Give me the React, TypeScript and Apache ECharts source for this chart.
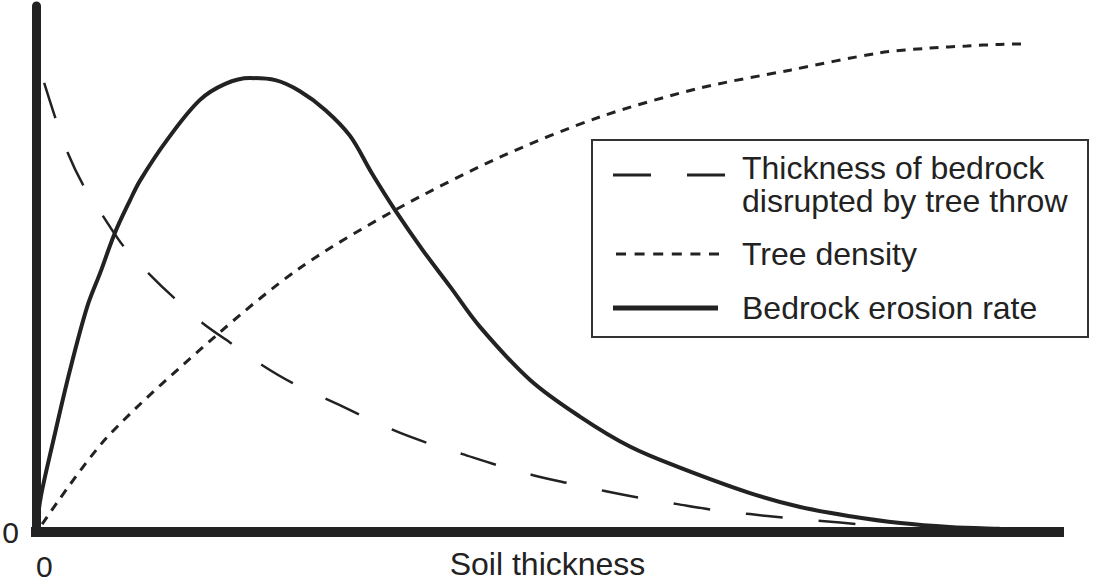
import React, { useEffect, useRef } from 'react';
import * as echarts from 'echarts';

// Bedrock erosion rate (solid)
const erosionX = [0.1, 0.5, 1.66, 3.3, 5.0, 6.3, 7.7, 9.2, 10.2, 12.8, 16.0, 18.5, 20.9, 23.4, 25.8, 28.3, 30.7, 32.8, 35.1, 37.8, 40.5, 43.4, 48.3, 53.2, 58.1, 63.0, 69.8, 74.7, 79.6, 84.5, 89.3, 94.2, 98.1];
const erosionY = [1.5, 7.0, 17.1, 30.6, 42.8, 49.4, 56.8, 63.1, 66.9, 74.5, 82.1, 85.2, 86.3, 85.9, 83.8, 80.2, 75.3, 68.3, 61.2, 53.6, 46.6, 39.0, 28.9, 21.9, 16.2, 12.2, 7.4, 4.75, 3.0, 1.7, 0.95, 0.6, 0.4];

// Thickness of bedrock disrupted by tree throw (long dashes)
const thicknessX = [0.8, 1.9, 3.1, 4.6, 6.6, 8.6, 11.1, 13.5, 16.3, 19.2, 22.2, 25.1, 29.7, 34.9, 38.3, 41.7, 45.1, 48.6, 52.0, 55.6, 59.0, 62.7, 66.2, 69.8, 73.2, 76.8, 80.4, 82.5];
const thicknessY = [85.4, 78.7, 72.1, 66.0, 59.9, 54.2, 49.0, 44.5, 39.7, 35.7, 31.6, 28.3, 24.1, 19.4, 16.9, 14.8, 12.7, 10.8, 9.3, 7.8, 6.5, 5.3, 4.2, 3.4, 2.7, 2.1, 1.5, 1.3];

// Tree density (short dashes)
const densityX = [0.6, 6.9, 17.7, 25.8, 35.1, 45.4, 55.1, 64.9, 73.7, 82.5, 87.4, 91.0, 94.2, 96.9];
const densityY = [1.5, 17.9, 37.5, 50.2, 61.2, 71.3, 78.9, 84.4, 87.8, 91.1, 92.0, 92.4, 92.7, 92.8];

const legendLines = ['Thickness of bedrock', 'disrupted by tree throw', 'Tree density', 'Bedrock erosion rate'];
const xAxisName = 'Soil thickness';
const tickLabel = '0';

const zip = (xs: number[], ys: number[]) => xs.map((x, i) => [x, ys[i]]);

export default function App() {
  const ref = useRef<HTMLDivElement>(null);
  useEffect(() => {
    const chart = echarts.init(ref.current!, null, { renderer: 'svg' });
    const fam = '"Liberation Sans", Arial, Helvetica, sans-serif';
    const ink = '#222';
    const txt = (text: string, y: number) => ({
      type: 'text',
      z: 100,
      style: {
        text,
        x: 742,
        y,
        font: `32px ${fam}`,
        fontSize: 32,
        fontFamily: fam,
        fill: ink,
        align: 'left',
        verticalAlign: 'middle',
        textAlign: 'left',
        textVerticalAlign: 'middle',
      },
    });
    chart.setOption({
      animation: false,
      grid: { left: 36, right: 43, top: 6, bottom: 49, containLabel: false, outerBoundsMode: 'none' },
      xAxis: {
        type: 'value',
        min: 0,
        max: 100,
        interval: 100,
        name: xAxisName,
        nameLocation: 'middle',
        nameGap: 32,
        nameMoveOverlap: false,
        nameTextStyle: { fontFamily: fam, fontSize: 32, color: ink, lineHeight: 26, verticalAlign: 'middle' },
        axisLine: { show: true, onZero: false, lineStyle: { color: ink, width: 10, cap: 'square' } },
        axisTick: { show: false },
        splitLine: { show: false },
        axisLabel: {
          showMaxLabel: false,
          align: 'left',
          verticalAlign: 'middle',
          lineHeight: 24,
          margin: 34,
          fontFamily: fam,
          fontSize: 30,
          color: ink,
          formatter: (v: number) => (v === 0 ? tickLabel : ''),
        },
      },
      yAxis: {
        type: 'value',
        min: 0,
        max: 100,
        interval: 100,
        axisLine: { show: true, onZero: false, lineStyle: { color: ink, width: 9 } },
        axisTick: { show: false },
        splitLine: { show: false },
        axisLabel: {
          showMaxLabel: false,
          margin: 17,
          fontFamily: fam,
          fontSize: 30,
          color: ink,
          formatter: (v: number) => (v === 0 ? tickLabel : ''),
        },
      },
      series: [
        {
          name: legendLines[0] + ' ' + legendLines[1],
          type: 'line',
          data: zip(thicknessX, thicknessY),
          smooth: 0.3,
          showSymbol: false,
          symbol: 'none',
          lineStyle: { color: ink, width: 2.5, type: [37, 36] },
        },
        {
          name: legendLines[2],
          type: 'line',
          data: zip(densityX, densityY),
          smooth: 0.3,
          showSymbol: false,
          symbol: 'none',
          lineStyle: { color: ink, width: 3, type: [9, 7.5] },
        },
        {
          name: legendLines[3],
          type: 'line',
          data: zip(erosionX, erosionY),
          smooth: 0.35,
          showSymbol: false,
          symbol: 'none',
          lineStyle: { color: ink, width: 4 },
        },
      ],
      graphic: [
        {
          type: 'rect',
          z: 90,
          shape: { x: 592, y: 140, width: 496, height: 197 },
          style: { fill: '#fff', stroke: '#333', lineWidth: 2 },
        },
        {
          type: 'line',
          z: 100,
          shape: { x1: 613, y1: 175, x2: 726, y2: 175 },
          style: { stroke: ink, lineWidth: 3, lineDash: [38, 36] },
        },
        {
          type: 'line',
          z: 100,
          shape: { x1: 616, y1: 254, x2: 719, y2: 254 },
          style: { stroke: ink, lineWidth: 3, lineDash: [10, 8.6] },
        },
        {
          type: 'line',
          z: 100,
          shape: { x1: 613, y1: 308, x2: 718, y2: 308 },
          style: { stroke: ink, lineWidth: 5 },
        },
        txt(legendLines[0], 168),
        txt(legendLines[1], 201),
        txt(legendLines[2], 254),
        txt(legendLines[3], 308),
      ],
    });
    return () => chart.dispose();
  }, []);
  return <div ref={ref} style={{ position: 'absolute', left: 0, top: 0, width: 1102, height: 581 }} />;
}
